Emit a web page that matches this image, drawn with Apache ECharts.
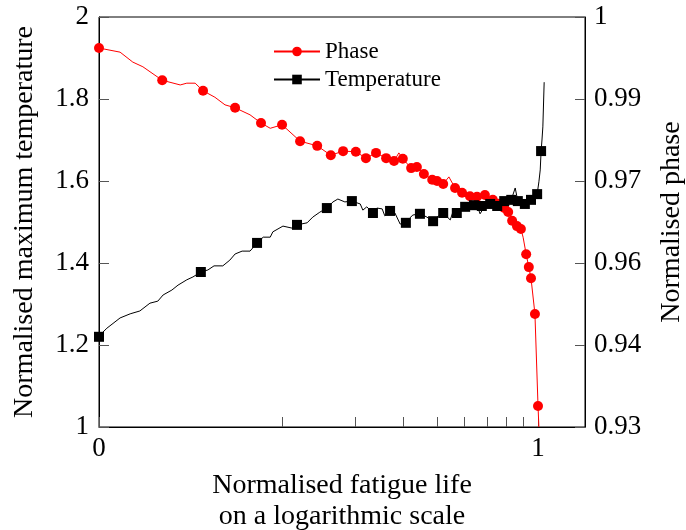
<!DOCTYPE html>
<html>
<head>
<meta charset="utf-8">
<script src="https://cdn.jsdelivr.net/npm/echarts@6/dist/echarts.min.js"></script>
<style>html,body{margin:0;padding:0;background:#fff}#c{width:686px;height:530px}</style>
</head>
<body>
<div id="c"></div>
<script>
// Temperature (left axis) line
const tempX = [0,0.018,0.048,0.071,0.093,0.116,0.134,0.146,0.166,0.180,0.200,0.214,0.232,0.248,0.262,0.282,0.298,0.310,0.326,0.344,0.360,0.374,0.390,0.396,0.419,0.440,0.451,0.474,0.487,0.503,0.519,0.533,0.544,0.560,0.576,0.595,0.601,0.610,0.624,0.633,0.645,0.651,0.663,0.674,0.686,0.699,0.708,0.715,0.731,0.747,0.761,0.770,0.784,0.800,0.806,0.815,0.834,0.845,0.861,0.868,0.879,0.891,0.900,0.907,0.915,0.923,0.930,0.939,0.948,0.954,0.962,0.970,0.975,0.984,0.990,0.998,1.002,1.005,1.007,1.009,1.011,1.014];
const tempY = [1.222,1.241,1.266,1.276,1.283,1.302,1.307,1.322,1.334,1.346,1.359,1.366,1.378,1.383,1.393,1.393,1.407,1.422,1.429,1.429,1.449,1.463,1.463,1.476,1.490,1.485,1.493,1.498,1.512,1.524,1.534,1.549,1.556,1.549,1.551,1.544,1.529,1.537,1.522,1.534,1.532,1.515,1.527,1.522,1.495,1.498,1.510,1.517,1.520,1.512,1.500,1.512,1.522,1.505,1.524,1.522,1.537,1.532,1.541,1.520,1.539,1.544,1.537,1.539,1.552,1.551,1.541,1.554,1.583,1.551,1.543,1.544,1.556,1.554,1.558,1.568,1.598,1.627,1.673,1.700,1.732,1.841];
// Temperature markers
const tempMarkX = [0,0.232,0.360,0.451,0.519,0.576,0.624,0.663,0.699,0.731,0.761,0.784,0.815,0.834,0.854,0.872,0.891,0.907,0.923,0.939,0.954,0.970,0.984,0.998,1.007];
const tempMarkY = [1.220,1.378,1.449,1.493,1.534,1.551,1.522,1.527,1.498,1.520,1.502,1.522,1.522,1.537,1.541,1.539,1.544,1.539,1.551,1.554,1.551,1.544,1.554,1.568,1.673];
// Phase (right axis) line
const phaseX = [0,0.048,0.077,0.100,0.144,0.185,0.200,0.219,0.237,0.264,0.287,0.310,0.344,0.369,0.390,0.417,0.458,0.497,0.528,0.556,0.585,0.608,0.631,0.654,0.672,0.683,0.692,0.711,0.724,0.740,0.759,0.770,0.784,0.797,0.811,0.827,0.845,0.861,0.879,0.897,0.909,0.923,0.932,0.941,0.952,0.961,0.966,0.973,0.979,0.984,0.993,1.000,1.002];
const phaseY = [0.9947,0.9940,0.9923,0.9915,0.9892,0.9884,0.9887,0.9887,0.9874,0.9863,0.9850,0.9845,0.9833,0.9819,0.9810,0.9816,0.9788,0.9780,0.9764,0.9771,0.9770,0.9759,0.9768,0.9759,0.9754,0.9768,0.9758,0.9742,0.9744,0.9732,0.9722,0.9720,0.9715,0.9727,0.9708,0.9700,0.9694,0.9693,0.9696,0.9688,0.9681,0.9674,0.9667,0.9652,0.9643,0.9638,0.9624,0.9595,0.9573,0.9554,0.9493,0.9336,0.9300];
// Phase markers
const phaseMarkX = [0,0.144,0.237,0.310,0.369,0.417,0.458,0.497,0.528,0.556,0.585,0.608,0.631,0.654,0.672,0.692,0.711,0.724,0.740,0.759,0.770,0.784,0.811,0.827,0.845,0.861,0.879,0.897,0.909,0.923,0.932,0.941,0.952,0.961,0.973,0.979,0.984,0.993,1.000];
const phaseMarkY = [0.9947,0.9892,0.9874,0.9845,0.9819,0.9816,0.9788,0.9780,0.9764,0.9771,0.9770,0.9759,0.9768,0.9759,0.9754,0.9758,0.9742,0.9744,0.9732,0.9722,0.9720,0.9715,0.9708,0.9700,0.9694,0.9693,0.9696,0.9688,0.9681,0.9674,0.9667,0.9652,0.9643,0.9638,0.9595,0.9573,0.9554,0.9493,0.9336];
// Axis ticks
const xMajorTicks = [0, 1];
const xMinorTicks = [0, 0.417, 0.583, 0.692, 0.770, 0.831, 0.884, 0.927, 0.966, 1];
const leftMin = 1, leftMax = 2, leftStep = 0.2;
const rightMin = 0.93, rightMax = 1, rightStep = 0.014;
const xMin = 0, xMax = 1.107;

const zip = (a, b) => a.map((v, i) => [v, b[i]]);
const FONT = '"Liberation Serif", "Times New Roman", "DejaVu Serif", serif';

const chart = echarts.init(document.getElementById('c'), null, {renderer: 'canvas'});
chart.setOption({
  animation: false,
  backgroundColor: '#fff',
  textStyle: {fontFamily: FONT, color: '#000'},
  grid: {left: 99, right: 101, top: 17, bottom: 103, outerBoundsMode: 'none', containLabel: false,
    show: true, borderColor: '#000', borderWidth: 1, backgroundColor: 'transparent'},
  legend: {
    orient: 'vertical', left: 268, top: 35, itemGap: 5, itemWidth: 46, itemHeight: 12,
    textStyle: {fontFamily: FONT, fontSize: 23, color: '#000'},
    data: ['Phase', 'Temperature']
  },
  xAxis: {
    type: 'value', min: xMin, max: xMax,
    name: 'Normalised fatigue life\non a logarithmic scale',
    nameLocation: 'middle', nameGap: 43,
    nameTextStyle: {fontFamily: FONT, fontSize: 28, color: '#000', lineHeight: 31},
    axisLine: {show: true, lineStyle: {color: '#000', width: 1}},
    axisTick: {show: true, inside: true, length: 10, customValues: xMinorTicks, lineStyle: {color: '#555', width: 1}},
    axisLabel: {customValues: xMajorTicks, fontFamily: FONT, fontSize: 27, color: '#000', margin: 8},
    splitLine: {show: false}
  },
  yAxis: [{
    type: 'value', position: 'left', min: leftMin, max: leftMax, interval: leftStep,
    name: 'Normalised maximum temperature', nameLocation: 'middle', nameGap: 60, nameRotate: 90,
    nameTextStyle: {fontFamily: FONT, fontSize: 28, color: '#000'},
    axisLine: {show: true, lineStyle: {color: '#000', width: 1}},
    axisTick: {show: true, inside: true, length: 10, lineStyle: {color: '#555', width: 1}},
    axisLabel: {fontFamily: FONT, fontSize: 27, color: '#000', margin: 10,
      formatter: v => String(parseFloat(v.toFixed(2)))},
    splitLine: {show: false}
  }, {
    type: 'value', position: 'right', min: rightMin, max: rightMax, interval: rightStep,
    name: 'Normalised phase', nameLocation: 'middle', nameGap: 73, nameRotate: 90,
    nameTextStyle: {fontFamily: FONT, fontSize: 28, color: '#000'},
    axisLine: {show: true, lineStyle: {color: '#000', width: 1}},
    axisTick: {show: true, inside: true, length: 10, lineStyle: {color: '#555', width: 1}},
    axisLabel: {fontFamily: FONT, fontSize: 27, color: '#000', margin: 9,
      formatter: v => String(parseFloat(v.toFixed(2)))},
    splitLine: {show: false}
  }],
  series: [{
    name: 'Phase', type: 'line', yAxisIndex: 1, data: zip(phaseX, phaseY),
    symbol: 'circle', symbolSize: 10, showSymbol: false, clip: true,
    lineStyle: {color: '#ff0000', width: 1}, itemStyle: {color: '#ff0000'}, z: 3
  }, {
    name: 'Phase', type: 'scatter', yAxisIndex: 1, data: zip(phaseMarkX, phaseMarkY),
    symbol: 'circle', symbolSize: 10, itemStyle: {color: '#ff0000', opacity: 1}, z: 3
  }, {
    name: 'Temperature', type: 'line', yAxisIndex: 0, data: zip(tempX, tempY),
    symbol: 'rect', symbolSize: 10, showSymbol: false, clip: true,
    lineStyle: {color: '#000', width: 1}, itemStyle: {color: '#000'}, z: 4
  }, {
    name: 'Temperature', type: 'scatter', yAxisIndex: 0, data: zip(tempMarkX, tempMarkY),
    symbol: 'rect', symbolSize: 10, itemStyle: {color: '#000', opacity: 1}, z: 4
  }]
});
</script>
</body>
</html>
